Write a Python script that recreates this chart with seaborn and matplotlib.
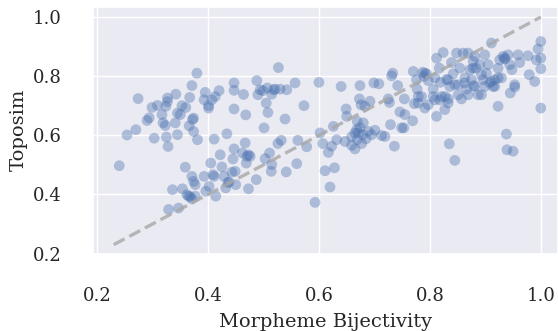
import numpy as np
import pandas as pd
import seaborn as sns
import matplotlib
matplotlib.use("Agg")
import matplotlib.pyplot as plt

# Morpheme bijectivity (x) and topographic similarity (y) per run
bijectivity = [
    0.240, 0.254, 0.270, 0.274, 0.290, 0.294, 0.299, 0.303, 0.309, 0.317,
    0.319, 0.323, 0.325, 0.328, 0.324, 0.327, 0.327, 0.341, 0.342, 0.345,
    0.345, 0.350, 0.353, 0.360, 0.366, 0.367, 0.371, 0.374, 0.372, 0.374,
    0.380, 0.381, 0.393, 0.395, 0.401, 0.401, 0.407, 0.413, 0.420, 0.411,
    0.434, 0.447, 0.447, 0.447, 0.464, 0.468, 0.488, 0.490, 0.494, 0.499,
    0.505, 0.507, 0.508, 0.501, 0.515, 0.518, 0.521, 0.527, 0.530, 0.539,
    0.542, 0.557, 0.573, 0.600,
    0.329, 0.347, 0.336, 0.354, 0.359, 0.362, 0.368, 0.371, 0.374, 0.377,
    0.365, 0.371, 0.377, 0.393, 0.396, 0.402, 0.405, 0.409, 0.411, 0.414,
    0.422, 0.425, 0.429, 0.432, 0.436, 0.438, 0.443, 0.445, 0.447, 0.449,
    0.450, 0.462, 0.467, 0.469, 0.470, 0.473, 0.473, 0.476, 0.487, 0.503,
    0.511, 0.514, 0.515, 0.526, 0.532, 0.541, 0.560, 0.562, 0.578, 0.593,
    0.602,
    0.607, 0.611, 0.617, 0.620, 0.623, 0.626, 0.628, 0.632, 0.640, 0.647,
    0.649, 0.650, 0.659, 0.665, 0.665, 0.668, 0.669, 0.671, 0.673, 0.674,
    0.676, 0.677, 0.680, 0.683, 0.689, 0.692, 0.695, 0.699, 0.701, 0.708,
    0.713, 0.719, 0.725, 0.727, 0.729, 0.731, 0.733, 0.736, 0.742, 0.746,
    0.749, 0.753, 0.754, 0.755, 0.770, 0.769, 0.772, 0.776, 0.777, 0.779,
    0.785, 0.787, 0.789, 0.791, 0.794, 0.797, 0.806, 0.809, 0.812, 0.812,
    0.817, 0.819, 0.821, 0.824, 0.827, 0.830, 0.833, 0.835, 0.836, 0.839,
    0.842, 0.845, 0.848, 0.851, 0.854, 0.857, 0.860, 0.863, 0.866, 0.869,
    0.872, 0.875, 0.878, 0.879, 0.881, 0.883, 0.887, 0.890, 0.893, 0.896,
    0.899, 0.902, 0.905, 0.908, 0.911, 0.914, 0.917, 0.923, 0.923, 0.926,
    0.929, 0.932, 0.935, 0.938, 0.939, 0.941, 0.944, 0.945, 0.950, 0.953,
    0.959, 0.962, 0.977, 0.979, 0.989, 0.992, 0.995, 1.000, 1.000, 1.000,
    1.000,
    0.791, 0.809, 0.833, 0.845, 0.863, 0.878, 0.893, 0.911, 0.923, 0.935,
    0.948, 0.953, 0.881, 0.899, 0.917, 0.806, 0.827, 0.851, 0.869, 0.779,
    0.797, 0.818, 0.833,
    0.674, 0.679, 0.659, 0.685, 0.669,
]
toposim = [
    0.497, 0.601, 0.619, 0.724, 0.650, 0.659, 0.694, 0.590, 0.701, 0.670,
    0.642, 0.633, 0.594, 0.562, 0.698, 0.726, 0.714, 0.642, 0.739, 0.602,
    0.675, 0.670, 0.700, 0.694, 0.632, 0.728, 0.768, 0.658, 0.653, 0.613,
    0.810, 0.585, 0.720, 0.745, 0.700, 0.692, 0.720, 0.731, 0.751, 0.587,
    0.605, 0.777, 0.752, 0.689, 0.738, 0.669, 0.785, 0.737, 0.754, 0.751,
    0.709, 0.760, 0.677, 0.625, 0.739, 0.754, 0.756, 0.829, 0.756, 0.655,
    0.754, 0.777, 0.700, 0.779,
    0.349, 0.354, 0.416, 0.419, 0.492, 0.399, 0.392, 0.461, 0.444, 0.433,
    0.394, 0.385, 0.394, 0.461, 0.411, 0.427, 0.506, 0.467, 0.461, 0.394,
    0.534, 0.493, 0.461, 0.422, 0.441, 0.441, 0.475, 0.520, 0.554, 0.478,
    0.433, 0.540, 0.574, 0.506, 0.529, 0.534, 0.419, 0.529, 0.450, 0.521,
    0.540, 0.478, 0.501, 0.572, 0.583, 0.476, 0.504, 0.583, 0.561, 0.373,
    0.608,
    0.572, 0.480, 0.542, 0.425, 0.563, 0.630, 0.490, 0.585, 0.765, 0.579,
    0.689, 0.664, 0.566, 0.608, 0.554, 0.619, 0.647, 0.608, 0.723, 0.768,
    0.703, 0.572, 0.642, 0.698, 0.613, 0.715, 0.602, 0.777, 0.617, 0.774,
    0.599, 0.596, 0.723, 0.711, 0.636, 0.801, 0.810, 0.563, 0.768, 0.679,
    0.625, 0.625, 0.723, 0.670, 0.816, 0.649, 0.707, 0.788, 0.756, 0.731,
    0.731, 0.813, 0.799, 0.692, 0.808, 0.785, 0.756, 0.720, 0.861, 0.664,
    0.827, 0.779, 0.731, 0.880, 0.687, 0.788, 0.723, 0.571, 0.765, 0.846,
    0.808, 0.515, 0.878, 0.771, 0.827, 0.723, 0.878, 0.794, 0.756, 0.878,
    0.822, 0.788, 0.850, 0.768, 0.867, 0.827, 0.737, 0.839, 0.737, 0.788,
    0.872, 0.810, 0.839, 0.777, 0.912, 0.765, 0.788, 0.698, 0.827, 0.855,
    0.794, 0.867, 0.858, 0.604, 0.551, 0.872, 0.839, 0.743, 0.546, 0.763,
    0.872, 0.846, 0.869, 0.805, 0.782, 0.855, 0.892, 0.917, 0.861, 0.825,
    0.692,
    0.810, 0.794, 0.788, 0.771, 0.777, 0.827, 0.805, 0.782, 0.794, 0.861,
    0.822, 0.771, 0.765, 0.765, 0.765, 0.731, 0.731, 0.737, 0.737, 0.709,
    0.703, 0.720, 0.709,
    0.626, 0.602, 0.595, 0.588, 0.585,
]
diag_line = [0.23, 1.0]
x_ticks = [0.2, 0.4, 0.6, 0.8, 1.0]
y_ticks = [0.2, 0.4, 0.6, 0.8, 1.0]

df = pd.DataFrame({"Morpheme Bijectivity": bijectivity, "Toposim": toposim})

sns.set_theme(style="darkgrid")
plt.rcParams["font.family"] = ["DejaVu Serif"]

fig = plt.figure(figsize=(5.58, 3.31), dpi=100)
ax = fig.add_axes([0.166, 0.234, 0.834, 0.745])

sns.scatterplot(data=df, x="Morpheme Bijectivity", y="Toposim", ax=ax,
                color="#4c72b0", alpha=0.4, s=60, edgecolor="none")
sns.lineplot(x=diag_line, y=diag_line, ax=ax, color="#a8a8a8", linestyle="--",
             linewidth=2.4, alpha=0.8)

ax.set_xlim(0.192, 1.031)
ax.set_ylim(0.2015, 1.034)
ax.set_xticks(x_ticks)
ax.set_yticks(y_ticks)
ax.set_xticklabels([f"{t:.1f}" for t in x_ticks], fontsize=13)
ax.set_yticklabels([f"{t:.1f}" for t in y_ticks], fontsize=13)
ax.xaxis.set_tick_params(pad=18)
ax.yaxis.set_tick_params(pad=16)
ax.set_xlabel("Morpheme Bijectivity", fontsize=14, labelpad=6)
ax.set_ylabel("Toposim", fontsize=14, labelpad=4)

fig.savefig("out.png", dpi=100)
